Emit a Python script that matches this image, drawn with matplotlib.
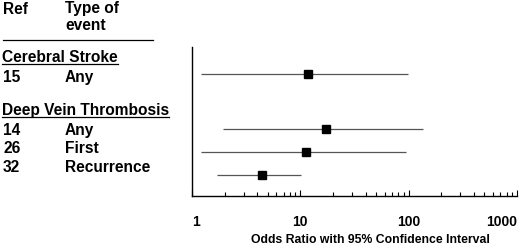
import matplotlib
matplotlib.use("Agg")
import matplotlib.pyplot as plt
from matplotlib.lines import Line2D
from matplotlib.ticker import FixedLocator, LogLocator, NullFormatter

plt.rcParams['font.family'] = ['Liberation Sans', 'DejaVu Sans']
plt.rcParams['font.weight'] = 'bold'

# study rows (top to bottom)
refs = ['15', '14', '26', '32']
events = ['Any', 'Any', 'First', 'Recurrence']
odds = [11.8, 17.2, 11.4, 4.4]
ci_low = [1.22, 1.95, 1.22, 1.7]
ci_high = [98, 136, 94, 10.1]
groups = ['Cerebral Stroke', 'Deep Vein Thrombosis']
tick_vals = [1, 10, 100, 1000]
tick_labels = ['1', '10', '100', '1000']

# vertical layout of rows in axis units
row_y = [5.39, 3, 2, 1]

W, H = 520, 247
fig = plt.figure(figsize=(W / 100, H / 100), dpi=100)
ax = fig.add_axes([192 / W, 1 - 196 / H, 325 / W, 149 / H])

for y, o, lo, hi in zip(row_y, odds, ci_low, ci_high):
    ax.plot([lo, hi], [y, y], color='#555555', lw=0.9, solid_capstyle='butt')
    ax.plot(o, y, marker='s', color='black', ms=5.5, ls='none')

ax.set_xscale('log')
ax.set_xlim(1, 1000)
ax.set_ylim(0.087, 6.57)
ax.spines['top'].set_visible(False)
ax.spines['right'].set_visible(False)
for s in ['left', 'bottom']:
    ax.spines[s].set_linewidth(1.0)
ax.set_yticks([])
ax.xaxis.set_major_locator(FixedLocator(tick_vals))
ax.xaxis.set_minor_locator(LogLocator(base=10, subs=range(2, 10)))
ax.xaxis.set_minor_formatter(NullFormatter())
ax.set_xticklabels(tick_labels)
ax.tick_params(axis='x', which='major', direction='in', length=4, width=0.8,
               pad=14, labelsize=10)
ax.tick_params(axis='x', which='minor', direction='in', length=3, width=0.8)
lbls = ax.get_xticklabels()
lbls[0].set_ha('left')
lbls[-1].set_ha('right')
for l in lbls:
    l.set_fontweight('bold')

ax.set_xlabel('Odds Ratio with 95% Confidence Interval', fontsize=8.8,
              fontweight='bold')
ax.xaxis.set_label_coords(0.548, -0.255)


def ftext(x, y, s, size=11.2):
    return fig.text(x / W, 1 - y / H, s, fontsize=size, fontweight='bold',
                    va='baseline', ha='left')


ftext(3, 13.5, 'Ref')
ftext(65, 13.5, 'Type of')
ftext(65, 30.5, 'event')
fig.add_artist(Line2D([3 / W, 153 / W], [1 - 40 / H, 1 - 40 / H],
                      color='black', lw=0.9))

heads = [ftext(2, 62.5, groups[0]), ftext(2, 115, groups[1])]
text_base = [82, 135, 153, 172]
for r, e, yb in zip(refs, events, text_base):
    ftext(3, yb, r)
    ftext(65, yb, e)

fig.canvas.draw()
r = fig.canvas.get_renderer()
for t in heads:
    bb = t.get_window_extent(r)
    _, yb = t.get_position()
    yl = yb - 2.0 / H
    fig.add_artist(Line2D([bb.x0 / W, bb.x1 / W], [yl, yl], color='black', lw=0.9))

fig.savefig('out.png', dpi=100)
